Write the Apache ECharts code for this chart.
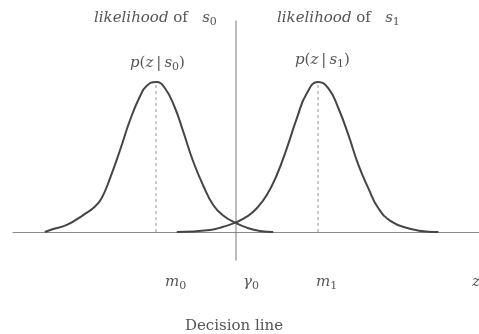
<!DOCTYPE html>
<html>
<head>
<meta charset="utf-8">
<script src="https://cdn.jsdelivr.net/npm/echarts@6/dist/echarts.min.js"></script>
<style>html,body{margin:0;padding:0;background:#fff;}#c{width:479px;height:334px;}</style>
</head>
<body>
<div id="c"></div>
<script>
// likelihood curve p(z|s0): z values and relative heights (peak = 1)
var s0Z = [-4.78, -4.57, -4.23, -3.82, -3.53, -3.36, -3.15, -2.9, -2.65, -2.4, -2.23, -2.0, -1.78, -1.53, -1.32, -1.07, -0.82, -0.57, -0.32, -0.02, 0.27, 0.6, 0.93];
var s0P = [0, 0.02, 0.047, 0.113, 0.169, 0.225, 0.358, 0.545, 0.745, 0.905, 0.975, 1.0, 0.96, 0.83, 0.67, 0.47, 0.31, 0.18, 0.11, 0.062, 0.029, 0.007, 0];
// likelihood curve p(z|s1)
var s1Z = [-1.48, -0.65, -0.32, -0.02, 0.27, 0.52, 0.77, 1.02, 1.27, 1.52, 1.77, 2.05, 2.31, 2.56, 2.81, 3.06, 3.31, 3.56, 3.89, 4.31, 4.81, 5.06];
var s1P = [0, 0.013, 0.035, 0.062, 0.102, 0.158, 0.247, 0.38, 0.558, 0.758, 0.925, 1.0, 0.958, 0.825, 0.647, 0.447, 0.291, 0.158, 0.069, 0.025, 0.002, 0];
// means and threshold
var means = [-2.0, 2.05];
var threshold = 0;
var decisionSpan = [-0.19, 1.41];
var axisRange = [-5.575, 6.075];
var yRange = [-0.2, 1.42];

function zip(a, b) { return a.map(function (v, i) { return [v, b[i]]; }); }

var serif = '"DejaVu Serif", "Liberation Serif", serif';
var txtColor = '#555';
var rich = {
  i: { fontFamily: serif, fontStyle: 'italic', fontSize: 15, color: txtColor, lineHeight: 20, verticalAlign: 'middle' },
  n: { fontFamily: serif, fontSize: 15, color: txtColor, lineHeight: 20, verticalAlign: 'middle' },
  sub: { fontFamily: serif, fontSize: 11, color: txtColor, lineHeight: 14, verticalAlign: 'bottom', padding: [6, 0, 0, 0] }
};
function txt(x, y, text, align) {
  return { type: 'text', x: x, y: y, style: { text: text, rich: rich, textAlign: align || 'left', textVerticalAlign: 'middle', fill: txtColor, fontFamily: serif, fontSize: 15 } };
}

var chart = echarts.init(document.getElementById('c'));
chart.setOption({
  animation: false,
  backgroundColor: '#fff',
  grid: { left: 13, right: 0, top: 19, bottom: 72 },
  xAxis: {
    type: 'value', min: axisRange[0], max: axisRange[1],
    axisLine: { onZero: true, lineStyle: { color: '#8a8a8a', width: 1.2 } },
    axisTick: { show: false }, axisLabel: { show: false }, splitLine: { show: false }
  },
  yAxis: { type: 'value', min: yRange[0], max: yRange[1], show: false, splitLine: { show: false } },
  series: [
    { type: 'line', data: [[threshold, decisionSpan[0]], [threshold, decisionSpan[1]]], symbol: 'none',
      lineStyle: { color: '#777', width: 1 }, silent: true },
    { type: 'line', data: [[means[0], 0], [means[0], 1]], symbol: 'none',
      lineStyle: { color: '#999', width: 1, type: [3, 3] } },
    { type: 'line', data: [[means[1], 0], [means[1], 1]], symbol: 'none',
      lineStyle: { color: '#999', width: 1, type: [3, 3] } },
    { type: 'line', data: zip(s0Z, s0P), symbol: 'none', smooth: 0.5,
      lineStyle: { color: '#454545', width: 2 } },
    { type: 'line', data: zip(s1Z, s1P), symbol: 'none', smooth: 0.5,
      lineStyle: { color: '#454545', width: 2 } }
  ],
  graphic: [
    txt(94, 18, '{i|likelihood} {n|of}   {i|s}{sub|0}'),
    txt(277, 18, '{i|likelihood} {n|of}   {i|s}{sub|1}'),
    txt(130, 63, '{i|p}{n|(}{i|z}{n|\u2009|\u2009}{i|s}{sub|0}{n|)}'),
    txt(295, 60, '{i|p}{n|(}{i|z}{n|\u2009|\u2009}{i|s}{sub|1}{n|)}'),
    txt(165, 282, '{i|m}{sub|0}'),
    txt(243, 282, '{i|\u03b3}{sub|0}'),
    txt(316, 282, '{i|m}{sub|1}'),
    txt(472, 282, '{i|z}'),
    { type: 'text', x: 234, y: 326, style: { text: 'Decision line', textAlign: 'center', textVerticalAlign: 'middle', fill: txtColor, fontFamily: serif, fontSize: 15 } }
  ]
});
</script>
</body>
</html>
